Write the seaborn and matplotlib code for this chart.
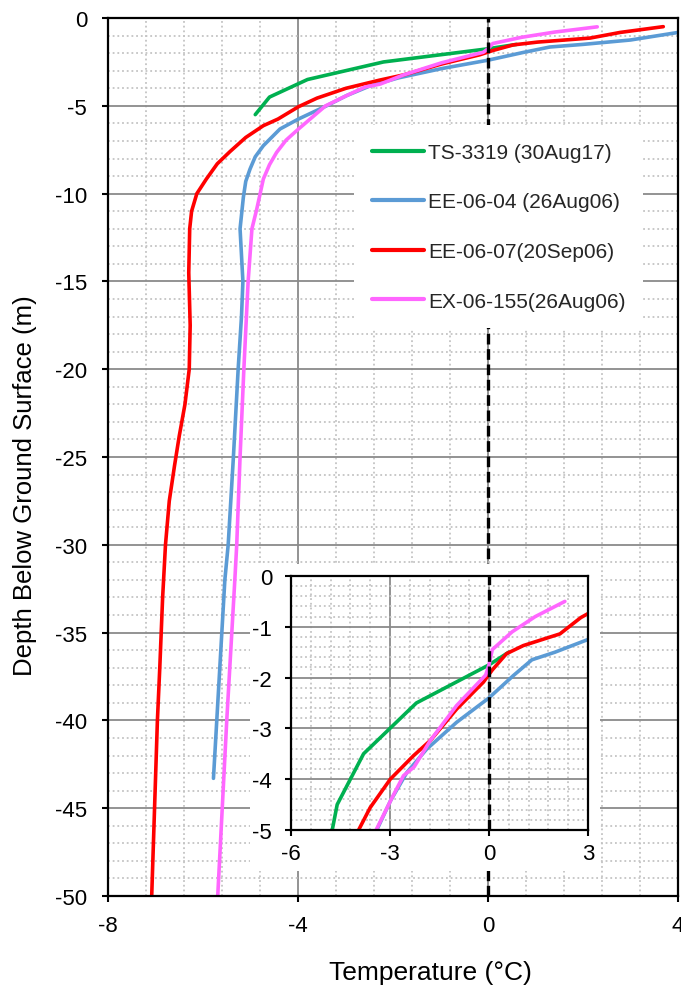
import matplotlib
matplotlib.use("Agg")
import matplotlib.pyplot as plt
from matplotlib.patches import Rectangle
from matplotlib.ticker import MultipleLocator
import pandas as pd
import seaborn as sns

# ------------------------------------------------------------------------------
# Data (temperature in degC, depth in m)
# ------------------------------------------------------------------------------
TS3319_T = [0.6, 0.0, -2.2, -3.0, -3.8, -4.6, -4.9]
TS3319_D = [-1.5, -1.75, -2.5, -3.0, -3.5, -4.5, -5.5]

EE0604_T = [4.0, 3.0, 2.0, 1.3, 0.74, 0.0, -0.98, -1.89, -2.49, -2.98, -3.4,
            -3.99, -4.38, -4.73, -4.9, -5.01, -5.1, -5.15, -5.22, -5.16,
            -5.19, -5.26, -5.36, -5.47, -5.54, -5.71, -5.78]
EE0604_D = [-0.82, -1.25, -1.5, -1.65, -1.96, -2.4, -2.88, -3.41, -3.87, -4.42,
            -5.0, -5.75, -6.32, -7.27, -7.9, -8.6, -9.3, -10.2, -12.0, -15.0,
            -17.0, -20.0, -25.0, -30.0, -32.0, -40.0, -43.3]

EE0607_T = [3.69, 2.78, 2.15, 1.04, 0.53, 0.1, -0.17, -0.98, -1.78, -2.29,
            -2.99, -3.6, -3.99, -4.42, -4.73, -5.1, -5.43, -5.7, -5.93, -6.13,
            -6.24, -6.28, -6.30, -6.27, -6.29, -6.38, -6.5, -6.6, -6.71, -6.79,
            -6.85, -6.91, -6.96, -7.02, -7.08]
EE0607_D = [-0.49, -0.82, -1.14, -1.37, -1.53, -1.85, -2.09, -2.62, -3.24,
            -3.54, -4.0, -4.56, -5.05, -5.75, -6.13, -6.8, -7.6, -8.3, -9.17,
            -10.0, -11.0, -12.0, -14.5, -17.5, -20.0, -22.0, -23.8, -25.5,
            -27.5, -30.0, -33.0, -37.0, -40.0, -45.0, -50.0]

EX06155_T = [2.3, 1.4, 0.7, 0.1, 0.0, -0.1, -0.98, -1.78, -2.27, -2.59, -2.91,
             -3.42, -3.99, -4.25, -4.45, -4.6, -4.73, -4.87, -4.97, -5.05,
             -5.14, -5.22, -5.29, -5.33, -5.5, -5.69]
EX06155_D = [-0.5, -0.8, -1.1, -1.45, -1.75, -1.95, -2.55, -3.24, -3.76, -3.93,
             -4.33, -5.0, -6.32, -6.95, -7.65, -8.35, -9.17, -10.9, -12.0,
             -15.0, -20.0, -25.0, -30.0, -32.0, -40.0, -50.0]

SERIES = [
    ("TS-3319 (30Aug17)", TS3319_T, TS3319_D, "#00B050"),
    ("EE-06-04 (26Aug06)", EE0604_T, EE0604_D, "#5B9BD5"),
    ("EE-06-07(20Sep06)", EE0607_T, EE0607_D, "#FF0000"),
    ("EX-06-155(26Aug06)", EX06155_T, EX06155_D, "#FF66FF"),
]

MAIN_XTICKS = [-8, -4, 0, 4]
MAIN_YTICKS = list(range(-50, 1, 5))
INSET_XTICKS = [-6, -3, 0, 3]
INSET_YTICKS = [-5, -4, -3, -2, -1, 0]

X_LABEL = "Temperature (°C)"
Y_LABEL = "Depth Below Ground Surface (m)"

# ------------------------------------------------------------------------------
# Plot parameters
# ------------------------------------------------------------------------------
LINE_WIDTH = 2.6
TICK_FONT_SIZE = 16
LABEL_FONT_SIZE = 19
LEGEND_FONT_SIZE = 15
MAJOR_GRID = dict(color="#8a8a8a", linewidth=1.3, linestyle="-")
MINOR_GRID = dict(color="#c4c4c4", linewidth=1.3, linestyle=(0, (1, 1.6)))

sns.set_theme(style="white")
plt.rcParams["font.family"] = ["Liberation Sans", "DejaVu Sans"]
plt.rcParams["axes.unicode_minus"] = False


def build_df():
  rows = []
  for name, temps, depths, _ in SERIES:
    for order, (t, d) in enumerate(zip(temps, depths)):
      rows.append({"series": name, "order": order, "T": t, "D": d})
  return pd.DataFrame(rows)


def style_axes(ax, xlim, ylim, xticks, yticks, xminor, yminor, xpad, ypad):
  ax.set_xlim(*xlim)
  ax.set_ylim(*ylim)
  ax.set_xticks(xticks)
  ax.set_yticks(yticks)
  ax.xaxis.set_minor_locator(MultipleLocator(xminor))
  ax.yaxis.set_minor_locator(MultipleLocator(yminor))
  ax.grid(True, which="major", **MAJOR_GRID)
  ax.grid(True, which="minor", **MINOR_GRID)
  ax.set_axisbelow(True)
  ax.tick_params(which="major", direction="out", length=4.5, width=1.5,
                 color="black", labelsize=TICK_FONT_SIZE, labelcolor="black",
                 bottom=True, left=True)
  ax.tick_params(axis="x", which="major", pad=xpad)
  ax.tick_params(axis="y", which="major", pad=ypad)
  ax.tick_params(which="minor", length=0)
  for sp in ax.spines.values():
    sp.set_color("black")
    sp.set_linewidth(1.6)
    sp.set_visible(True)
  ax.set_xlabel("")
  ax.set_ylabel("")


def draw_lines(ax, df, legend):
  for name, _, _, color in SERIES:
    sub = df[df["series"] == name]
    sns.lineplot(data=sub, x="T", y="D", sort=False, estimator=None,
                 color=color, linewidth=LINE_WIDTH, label=name if legend else None,
                 legend=False, ax=ax, zorder=2)
  ax.axvline(0, color="black", linewidth=2.4, linestyle=(0, (3.2, 1.4)),
             zorder=3)


def plot():
  df = build_df()
  fig = plt.figure(figsize=(6.81, 9.87), dpi=100)

  # main axes
  ax = fig.add_axes([0.1586, 0.0912, 0.8370, 0.8895])
  draw_lines(ax, df, legend=True)
  style_axes(ax, (-8, 4), (-50, 0), MAIN_XTICKS, MAIN_YTICKS, 0.8, 1.0,
             xpad=9, ypad=10.5)
  ax.set_xlabel(X_LABEL, fontsize=LABEL_FONT_SIZE, color="black")
  ax.set_ylabel(Y_LABEL, fontsize=LABEL_FONT_SIZE - 0.5, color="black")
  ax.xaxis.set_label_coords(0.565, -0.073)
  ax.yaxis.set_label_coords(-0.125, 0.469)

  handles, labels = ax.get_legend_handles_labels()
  leg = ax.legend(handles, labels, loc="upper left",
                  bbox_to_anchor=(0.432, 0.878), borderaxespad=0,
                  fontsize=LEGEND_FONT_SIZE, frameon=True, fancybox=False,
                  framealpha=1, facecolor="white", edgecolor="none",
                  handlelength=2.5, handletextpad=0.2, labelspacing=1.47,
                  borderpad=0.85)
  for line in leg.get_lines():
    line.set_linewidth(3.0)
  leg.set_zorder(6)

  # white backing under the inset and its tick labels
  ax.add_patch(Rectangle((0.3671, 0.1165), 0.514, 0.311,
                         transform=fig.transFigure, facecolor="white",
                         edgecolor="none", zorder=5))

  # inset axes
  ins = fig.add_axes([0.4273, 0.1581, 0.4361, 0.2573])
  ins.set_facecolor("white")
  draw_lines(ins, df, legend=False)
  style_axes(ins, (-6, 3), (-5, 0), INSET_XTICKS, INSET_YTICKS, 0.6, 0.2,
             xpad=5, ypad=9)

  fig.savefig("out.png", dpi=100)


if __name__ == "__main__":
  plot()
